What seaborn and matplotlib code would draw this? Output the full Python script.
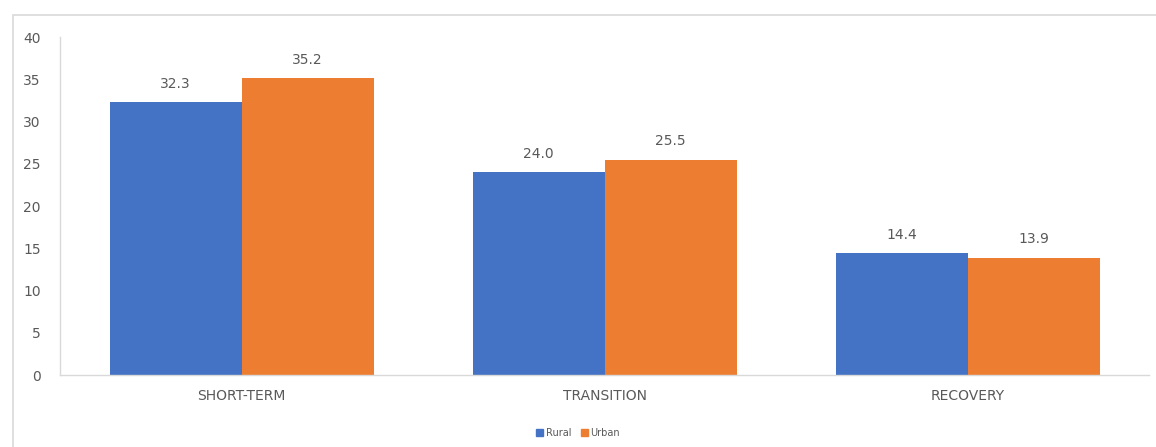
import pandas as pd
import seaborn as sns
import matplotlib.pyplot as plt
from matplotlib.patches import Rectangle

# Dữ liệu
phases = ['SHORT-TERM', 'TRANSITION', 'RECOVERY']
rural = [32.3, 24.0, 14.4]
urban = [35.2, 25.5, 13.9]
groups = ['Rural', 'Urban']
colors = ['#4472C4', '#ED7D31']

df = pd.DataFrame({
    'phase': phases * 2,
    'group': [groups[0]] * 3 + [groups[1]] * 3,
    'value': rural + urban,
})

sns.set_style('white')
plt.rcParams['font.family'] = ['DejaVu Sans']
text_color = '#595959'

fig = plt.figure(figsize=(11.56, 4.47), dpi=100)
ax = fig.add_axes([0.052, 0.161, 0.942, 0.756])

sns.barplot(data=df, x='phase', y='value', hue='group', order=phases,
            hue_order=groups, palette=colors, width=0.727, saturation=1,
            linewidth=0, ax=ax, legend=False)

# Nhãn giá trị trên cột
for cont in ax.containers:
    ax.bar_label(cont, fmt='%.1f', padding=8, fontsize=10, color=text_color)

ax.set_ylim(0, 40)
ax.set_yticks(range(0, 41, 5))
ax.set_xlim(-0.5, 2.5)
ax.set_xlabel('')
ax.set_ylabel('')
ax.tick_params(axis='both', length=0, labelsize=10, colors=text_color)
ax.tick_params(axis='y', pad=14)
ax.tick_params(axis='x', pad=10)
for s in ['top', 'right']:
    ax.spines[s].set_visible(False)
for s in ['left', 'bottom']:
    ax.spines[s].set_color('#D9D9D9')
    ax.spines[s].set_linewidth(1)

# Chú thích ở dưới
handles = [plt.Rectangle((0, 0), 1, 1, color=c) for c in colors]
fig.legend(handles, groups, loc='center', bbox_to_anchor=(0.5, 0.031), ncol=2,
           frameon=False, fontsize=7, handlelength=0.7, handleheight=0.7,
           handletextpad=0.3, columnspacing=1.0, labelcolor=text_color)

# Khung viền của biểu đồ
fig.patches.append(Rectangle((13 / 1156, -0.05), 1.0, 1 - 15 / 447 + 0.05,
                             transform=fig.transFigure, fill=False,
                             edgecolor='#D9D9D9', linewidth=1.2))

fig.savefig('out.png', dpi=100)
